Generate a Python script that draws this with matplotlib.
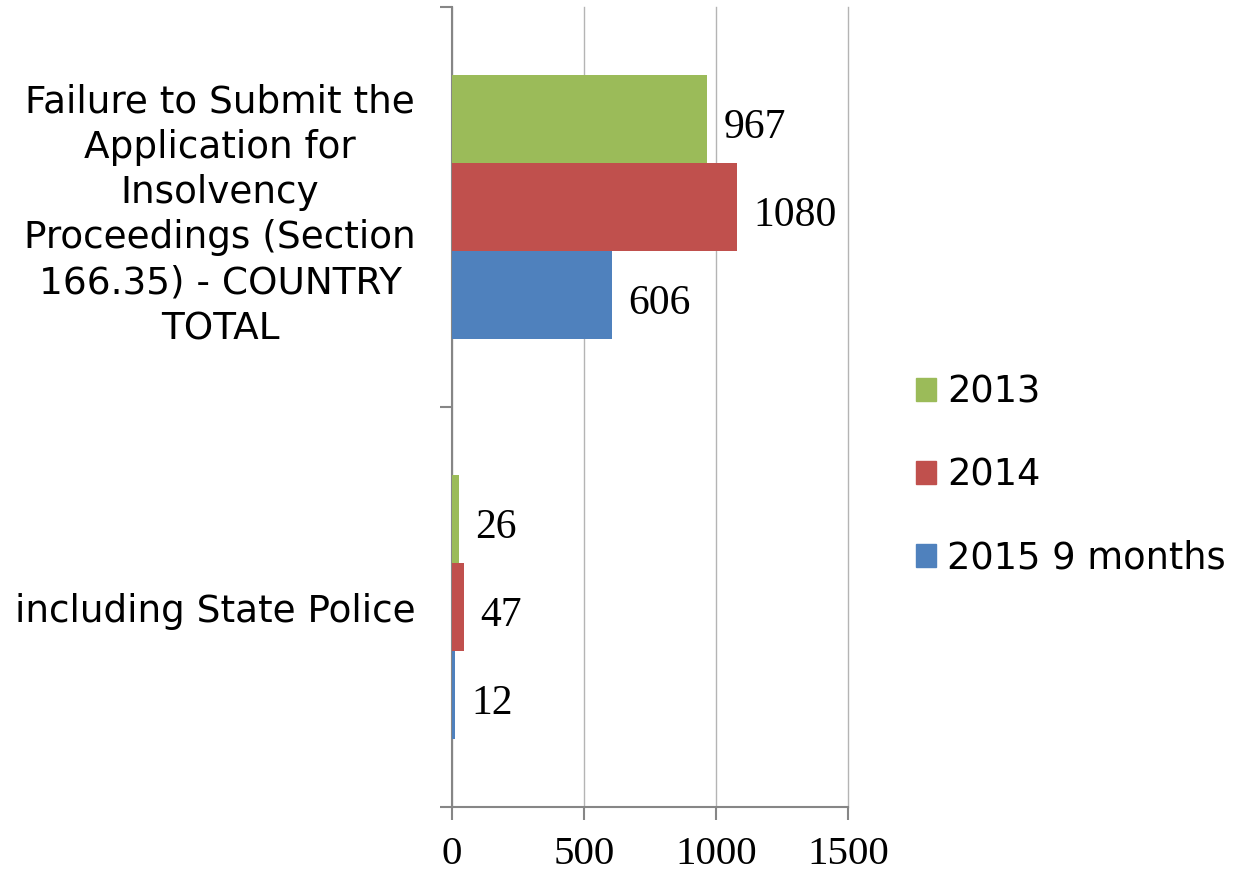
import matplotlib
matplotlib.use("Agg")
import matplotlib.pyplot as plt
from matplotlib.patches import Patch
import numpy as np

categories = ["Failure to Submit the\nApplication for\nInsolvency\nProceedings (Section\n166.35) - COUNTRY\nTOTAL",
              "including State Police"]
series_names = ["2013", "2014", "2015 9 months"]
values_2013 = [967, 26]
values_2014 = [1080, 47]
values_2015 = [606, 12]
colors = ["#9BBB59", "#C0504D", "#4F81BD"]

fig = plt.figure(figsize=(12.42, 8.75), dpi=100)
ax = fig.add_axes([452/1242, 1-807/875, (848-452)/1242, 800/875])

y = np.arange(len(categories))
h = 0.22
all_vals = [values_2013, values_2014, values_2015]
for i, (vals, c) in enumerate(zip(all_vals, colors)):
    pos = y + (i - 1) * h
    ax.barh(pos, vals, height=h, color=c, zorder=3)
    for p, v in zip(pos, vals):
        ax.annotate(str(v), (v, p), xytext=(11.5, -6), textcoords="offset points",
                    va="center", ha="left", fontsize=30, family="Liberation Serif")

ax.set_xlim(0, 1500)
ax.set_ylim(1.5, -0.5)
ax.set_xticks([0, 500, 1000, 1500])
ax.set_xticklabels(["0", "500", "1000", "1500"], fontsize=29.5, family="Liberation Serif")
ax.xaxis.grid(True, color="#B4B4B4", lw=1.0, zorder=0)
for gl in ax.get_xgridlines():
    gl.set_clip_on(False)
ax.set_yticks([-0.5, 0.5, 1.5])
ax.set_yticklabels([])
ax.set_yticks(y, minor=True)
ax.set_yticklabels(categories, minor=True, fontsize=26.9, family="DejaVu Sans",
                   multialignment="center", linespacing=1.29)
ax.tick_params(axis="y", which="minor", length=0, pad=26)
ax.tick_params(axis="y", which="major", length=9, width=1.5, color="#868686", direction="out")
ax.tick_params(axis="x", which="major", length=9, width=1.5, color="#868686", direction="out", pad=12)
for s in ["top", "right"]:
    ax.spines[s].set_visible(False)
for s in ["left", "bottom"]:
    ax.spines[s].set_color("#868686")
    ax.spines[s].set_linewidth(1.5)

handles = [Patch(color=c) for c in colors]
fig.legend(handles, series_names, loc="center left", bbox_to_anchor=(916/1242, 1-475/875),
           frameon=False, fontsize=26.5, handlelength=0.55, handleheight=0.55,
           handletextpad=0.3, labelspacing=1.25, borderaxespad=0, borderpad=0)

fig.savefig("out.png", dpi=100)
